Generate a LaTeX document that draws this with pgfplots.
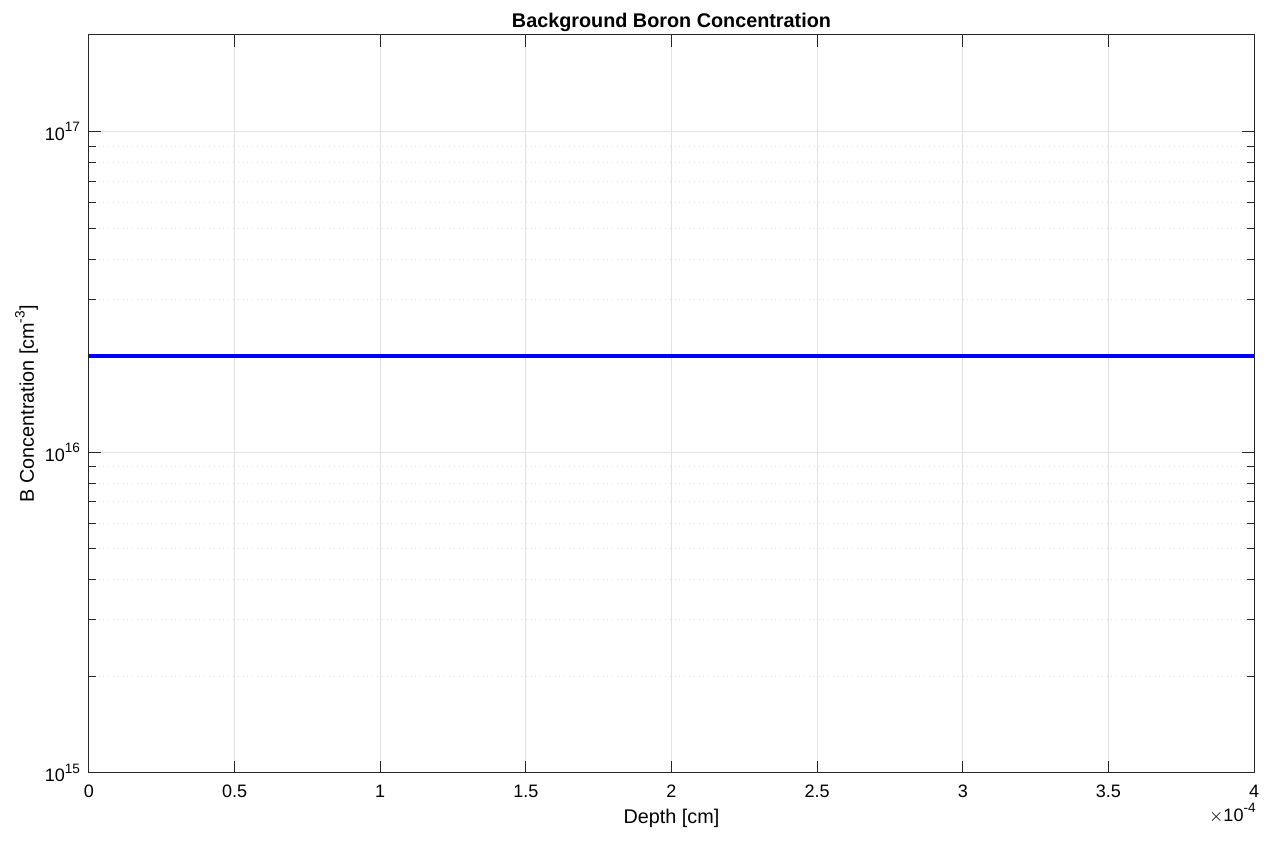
\documentclass[border=0pt]{standalone}
\usepackage{pgfplots}
\pgfplotsset{compat=1.18}
\usepackage{fontspec}
\setmainfont{Liberation Sans}
\definecolor{axcol}{RGB}{38,38,38}
\definecolor{gridcol}{RGB}{226,226,226}
\newcommand{\sups}[1]{\raisebox{0.9ex}{\fontsize{6.8pt}{8pt}\selectfont #1}}
\begin{document}
\begin{tikzpicture}
\begin{axis}[
  scale only axis,
  width=582.5pt, height=369pt,
  ymode=log,
  xmin=0, xmax=0.0004,
  ymin=1e15, ymax=2e17,
  axis line style={axcol, line width=0.5pt},
  tick style={axcol, line width=0.5pt},
  major tick length=6pt,
  minor tick length=3.5pt,
  tick align=inside,
  xtick={0,0.00005,0.0001,0.00015,0.0002,0.00025,0.0003,0.00035,0.0004},
  xticklabels={0,0.5,1,1.5,2,2.5,3,3.5,4},
  scaled x ticks=false,
  ytick={1e15,1e16,1e17},
  yticklabels={10\sups{15},10\sups{16},10\sups{17}},
  grid=both,
  major grid style={gridcol, line width=0.5pt},
  minor grid style={gridcol, dotted, line width=0.5pt},
  every tick label/.style={font=\fontsize{9pt}{11pt}\selectfont, text=black},
  xticklabel style={yshift=-2.5pt},
  yticklabel style={xshift=-1pt},
  xlabel={Depth [cm]},
  ylabel={B Concentration [cm\sups{-3}]},
  label style={font=\fontsize{9.9pt}{12pt}\selectfont, text=black},
  xlabel style={yshift=1pt},
  ylabel style={yshift=-3.5pt},
  title={\textbf{Background Boron Concentration}},
  title style={font=\fontsize{9.9pt}{12pt}\selectfont, yshift=-8pt},
  clip=true,
]
\addplot[color=blue, line width=2pt] coordinates {(0,2e16) (0.0004,2e16)};
\coordinate (sw) at (rel axis cs:0,0);
\coordinate (ne) at (rel axis cs:1,1);
\end{axis}
\node[anchor=north east, font=\fontsize{9pt}{11pt}\selectfont, inner sep=0pt] at ([yshift=-15pt, xshift=1pt]ne |- sw) {$\times$10\sups{-4}};
\pgfresetboundingbox
\path[use as bounding box] ([shift={(-44.5pt,-36.5pt)}]sw) rectangle ([shift={(12pt,17.5pt)}]ne);
\end{tikzpicture}
\end{document}
